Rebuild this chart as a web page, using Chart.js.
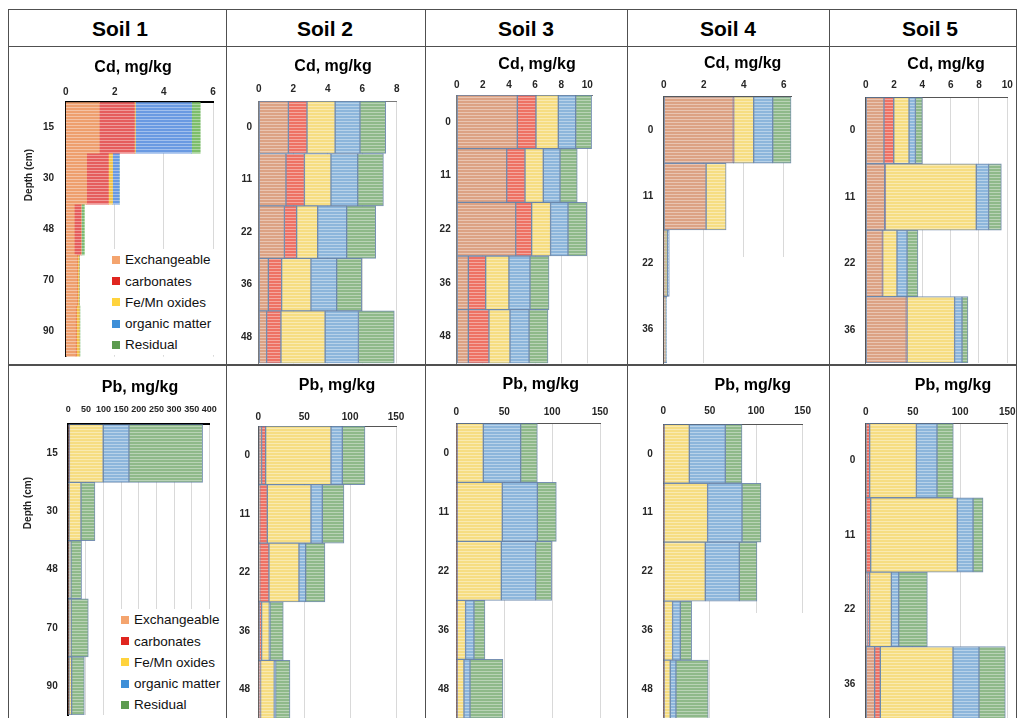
<!DOCTYPE html>
<html><head><meta charset="utf-8">
<script src="https://cdn.jsdelivr.net/npm/chart.js@4.4.1/dist/chart.umd.min.js"></script>
<style>
body{margin:0;background:#fff;}
#root{position:relative;width:1020px;height:718px;overflow:hidden;font-family:'Liberation Sans',Arial,sans-serif;background:#fff;}
canvas{position:absolute;}
.hdr{position:absolute;font-weight:bold;font-size:21px;line-height:26px;text-align:center;width:180px;color:#000;z-index:4;}
.ttl{position:absolute;font-weight:bold;font-size:16px;line-height:20px;text-align:center;width:200px;color:#000;z-index:4;}
.leg{position:absolute;background:#fff;font-size:13.5px;color:#111;z-index:3;}
.leg div{height:21.2px;line-height:21.2px;white-space:nowrap;position:relative;padding-left:17px;}
.leg span{position:absolute;left:4px;top:6.6px;width:8px;height:8px;}
.blank{position:absolute;background:#fff;z-index:2;}
.ln{position:absolute;background:#505050;z-index:6;}
.depth{position:absolute;width:80px;height:12px;line-height:12px;font-size:10px;font-weight:bold;text-align:center;transform:rotate(-90deg);color:#222;z-index:4;}
</style></head>
<body><div id="root"></div>
<script>
// ---------- data ----------
const soils = ['Soil 1','Soil 2','Soil 3','Soil 4','Soil 5'];
const fractions = ['Exchangeable','carbonates','Fe/Mn oxides','organic matter','Residual'];
const depthsSoil1 = ['15','30','48','70','90'];
const depthsSoil23 = ['0','11','22','36','48'];
const depthsSoil4Cd = ['0','11','22','36'];
const depthsSoil4Pb = ['0','11','22','36','48'];
const depthsSoil5 = ['0','11','22','36'];
const metalTitles = ['Cd, mg/kg','Pb, mg/kg'];

// rows: Exchangeable, carbonates, Fe/Mn oxides, organic matter, Residual
const cdSoil1 = [[1.37,0.85,0.35,0.45,0.40],[1.43,0.89,0.27,0.02,0.03],[0.04,0.17,0.02,0.08,0.13],[2.29,0.27,0.02,0.01,0.01],[0.35,0.00,0.10,0.00,0.01]];
const cdSoil2 = [[1.72,1.58,1.49,0.56,0.46],[1.08,1.07,0.71,0.77,0.83],[1.63,1.54,1.22,1.70,2.56],[1.44,1.55,1.68,1.49,1.93],[1.49,1.49,1.68,1.45,2.08]];
const cdSoil3 = [[4.64,3.83,4.52,0.89,0.89],[1.43,1.40,1.22,1.33,1.58],[1.71,1.40,1.45,1.78,1.61],[1.33,1.28,1.33,1.61,1.46],[1.22,1.32,1.43,1.46,1.45]];
const cdSoil4 = [[3.48,2.12,0.05,0.08],[0.02,0.00,0.00,0.00],[1.00,1.00,0.13,0.02],[0.95,0.00,0.10,0.05],[0.92,0.00,0.00,0.00]];
const cdSoil5 = [[1.29,1.34,1.18,2.87],[0.69,0.05,0.02,0.05],[1.08,6.42,1.01,3.36],[0.45,0.87,0.71,0.52],[0.49,0.90,0.77,0.42]];
const pbSoil1 = [[1,1,1,1,1],[2,1,1,1,1],[96,34,5.6,6,7.5],[73,0,0,0,0],[209,39.6,30,48.7,36]];
const pbSoil2 = [[3.6,1.5,1.5,1,1],[4.4,8.3,10.1,2.6,1.5],[71.2,47.6,32.7,8.4,14.9],[12.3,12.3,7.3,0.7,1.5],[24.7,23.6,21.0,14.5,15.6]];
const pbSoil3 = [[0.5,0.5,0.5,0.5,0.5],[0.5,0.5,0.5,0.5,0.5],[27.2,47,46,8.7,7],[39,36.6,35.8,8.7,6.3],[17.4,19.8,16.7,11.5,34.4]];
const pbSoil4 = [[0.5,0.5,0.5,0.5,0.5],[0.5,0.5,0.5,0.5,0.5],[27,46.7,44.2,9,6.5],[38.7,37,36.6,8.3,6.1],[18,20.4,19,12.2,34.8]];
const pbSoil5 = [[0.5,0.5,2,9.5],[3.7,4.8,2.2,6],[49.5,91.7,23,77],[21.8,16.7,7.8,27.5],[17.3,10.6,30.3,27.9]];

// ---------- styling ----------
const palSat = ['#EE9F6E','#E55D5D','#F3C44A','#6A9AE2','#7DBE6C'];
const palStd = ['#DCA284','#EE7264','#F6DD82','#8DB6DB','#8FB98A'];
const legendCols = ['#F4A46E','#E0251F','#FFD33D','#3E8FD8','#5C9B4F'];

Chart.defaults.font.family = "'Liberation Sans', Arial, sans-serif";
Chart.defaults.color = '#262626';
const root = document.getElementById('root');

function stripe(hex){
  const c = document.createElement('canvas'); c.width = 4; c.height = 3;
  const g = c.getContext('2d');
  g.fillStyle = hex; g.fillRect(0,0,4,3);
  g.fillStyle = 'rgba(255,255,255,0.38)'; g.fillRect(0,2,4,1);
  return g.createPattern(c,'repeat');
}

function panel(p){
  const cl = Math.floor(p.L) - 60, ct = Math.floor(p.T) - 45;
  const R = p.L + p.unit * p.max;
  const cw = Math.ceil(R - cl) + 22, ch = Math.ceil(p.B - ct) + 22;
  const fs = p.fs || 10;
  const xpad = p.T - p.labelY - fs*0.6;
  const xH = xpad + fs*1.2 + 2;
  const yW = 30;
  const cv = document.createElement('canvas');
  cv.width = cw; cv.height = ch;
  cv.style.left = cl+'px'; cv.style.top = ct+'px'; cv.style.width = cw+'px'; cv.style.height = ch+'px';
  root.appendChild(cv);
  const datasets = fractions.map((f,i)=>({
    label:f, data:p.data[i], backgroundColor:stripe(p.pal[i]),
    borderColor:p.bc, borderWidth:p.bw, borderSkipped:false,
    barPercentage:1, categoryPercentage:1
  }));
  new Chart(cv,{type:'bar',data:{labels:p.labels,datasets},options:{
    indexAxis:'y', responsive:false, animation:false, devicePixelRatio:1,
    layout:{padding:{left:p.L-cl-yW, top:p.T-ct-xH, right:cl+cw-R, bottom:ct+ch-p.B}},
    plugins:{legend:{display:false},title:{display:false},tooltip:{enabled:false}},
    scales:{
      x:{type:'linear',position:'top',stacked:true,min:0,max:p.max,
        afterBuildTicks:s=>{
          const t=[]; for(let v=0; v<=p.max+1e-9; v+=p.step){ t.push({value:Math.round(v*1000)/1000}); }
          s.ticks = t;
        },
        ticks:{stepSize:p.step,padding:xpad,font:{size:fs,weight:'bold'},color:'#262626',maxRotation:0,minRotation:0,autoSkip:false},
        grid:{color:'#d9d9d9',drawTicks:false,lineWidth:1},
        border:{color:p.axc,width:p.axw},
        afterFit:s=>{s.height = xH;}},
      y:{type:'category',stacked:true,offset:true,z:1,
        ticks:{padding:p.ypad,font:{size:10,weight:'bold'},color:'#262626'},
        grid:{display:false,drawTicks:false},
        border:{color:p.axc,width:p.axw},
        afterFit:s=>{s.width = yW;}}
    }}});
}

const barBorder = 'rgba(95,125,165,0.85)';
const panels = [
  {labels:depthsSoil1, data:cdSoil1, L:65.7, unit:24.55, max:6, step:2, T:102.3, B:356.7, labelY:92, ypad:11.7, pal:palSat, bw:0, bc:'rgba(0,0,0,0)', axc:'#000', axw:2, title:[133,67]},
  {labels:depthsSoil23, data:cdSoil2, L:258.7, unit:17.25, max:8, step:2, T:101, B:363.3, labelY:89, ypad:6.7, pal:palStd, bw:1, bc:barBorder, axc:'#7a7a7a', axw:1, title:[333,66]},
  {labels:depthsSoil23, data:cdSoil3, L:456.7, unit:13.06, max:10.4, step:2, T:95, B:363.3, labelY:85, ypad:6, pal:palStd, bw:1, bc:barBorder, axc:'#7a7a7a', axw:1, title:[537,64]},
  {labels:depthsSoil4Cd, data:cdSoil4, L:663.7, unit:20.0, max:6.4, step:2, T:96.7, B:363, labelY:85, ypad:10.4, pal:palStd, bw:1, bc:barBorder, axc:'#555', axw:1, title:[742.7,63]},
  {labels:depthsSoil5, data:cdSoil5, L:865.7, unit:14.16, max:10, step:2, T:97.3, B:363, labelY:85, ypad:10.4, pal:palStd, bw:1, bc:barBorder, axc:'#555', axw:1, title:[946,64]},
  {labels:depthsSoil1, data:pbSoil1, L:68.3, unit:0.3525, max:400, step:50, T:424.3, B:715, labelY:410, ypad:10.6, fs:9, pal:palStd, bw:1, bc:barBorder, axc:'#000', axw:2, title:[140,387]},
  {labels:depthsSoil23, data:pbSoil2, L:258.3, unit:0.918, max:150, step:50, T:426, B:719, labelY:417, ypad:8.3, pal:palStd, bw:1, bc:barBorder, axc:'#555', axw:1, title:[337,385]},
  {labels:depthsSoil23, data:pbSoil3, L:456.3, unit:0.958, max:150, step:50, T:423.3, B:718.3, labelY:412, ypad:7.3, pal:palStd, bw:1, bc:barBorder, axc:'#555', axw:1, title:[540.7,384]},
  {labels:depthsSoil4Pb, data:pbSoil4, L:663.3, unit:0.929, max:150, step:50, T:424.3, B:719, labelY:411, ypad:10.6, pal:palStd, bw:1, bc:barBorder, axc:'#555', axw:1, title:[752.7,385]},
  {labels:depthsSoil5, data:pbSoil5, L:865.7, unit:0.944, max:150, step:50, T:423.3, B:721, labelY:412, ypad:10.4, pal:palStd, bw:1, bc:barBorder, axc:'#555', axw:1, title:[953,385]}
];
panels.forEach((p,i)=>{
  panel(p);
  const t = document.createElement('div');
  t.className = 'ttl'; t.textContent = metalTitles[i<5?0:1];
  t.style.left = (p.title[0]-100)+'px'; t.style.top = (p.title[1]-10)+'px';
  root.appendChild(t);
});

// headers
const hdrX = [120,325,526,728,930];
soils.forEach((s,i)=>{
  const d = document.createElement('div'); d.className='hdr'; d.textContent = s;
  d.style.left = (hdrX[i]-90)+'px'; d.style.top = '16px'; root.appendChild(d);
});

// legends
function legend(x,y,w){
  const d = document.createElement('div'); d.className='leg';
  d.style.left = x+'px'; d.style.top = y+'px'; d.style.width = w+'px';
  fractions.forEach((f,i)=>{
    const r = document.createElement('div');
    const sw = document.createElement('span'); sw.style.background = legendCols[i];
    r.appendChild(sw); r.appendChild(document.createTextNode(f)); d.appendChild(r);
  });
  root.appendChild(d);
}
legend(108,249.4,114);
legend(117,609.4,105);

// white areas that hide gridlines (as in the source figure)
[[712,257,92,106],[725,613,88,105]].forEach(b=>{
  const d=document.createElement('div'); d.className='blank';
  d.style.left=b[0]+'px'; d.style.top=b[1]+'px'; d.style.width=b[2]+'px'; d.style.height=b[3]+'px';
  root.appendChild(d);
});

// depth labels
[[29,175],[28,503]].forEach(c=>{
  const d=document.createElement('div'); d.className='depth'; d.textContent='Depth (cm)';
  d.style.left=(c[0]-40)+'px'; d.style.top=(c[1]-6)+'px'; root.appendChild(d);
});

// table lines
function line(x,y,w,h){const d=document.createElement('div');d.className='ln';d.style.left=x+'px';d.style.top=y+'px';d.style.width=w+'px';d.style.height=h+'px';root.appendChild(d);}
line(8,9,1009,1);
line(8,46,1009,1);
line(8,364,1009,2);
[8,226,425,627,829,1016].forEach(x=>line(x,9,1,720));
</script>
</body></html>
